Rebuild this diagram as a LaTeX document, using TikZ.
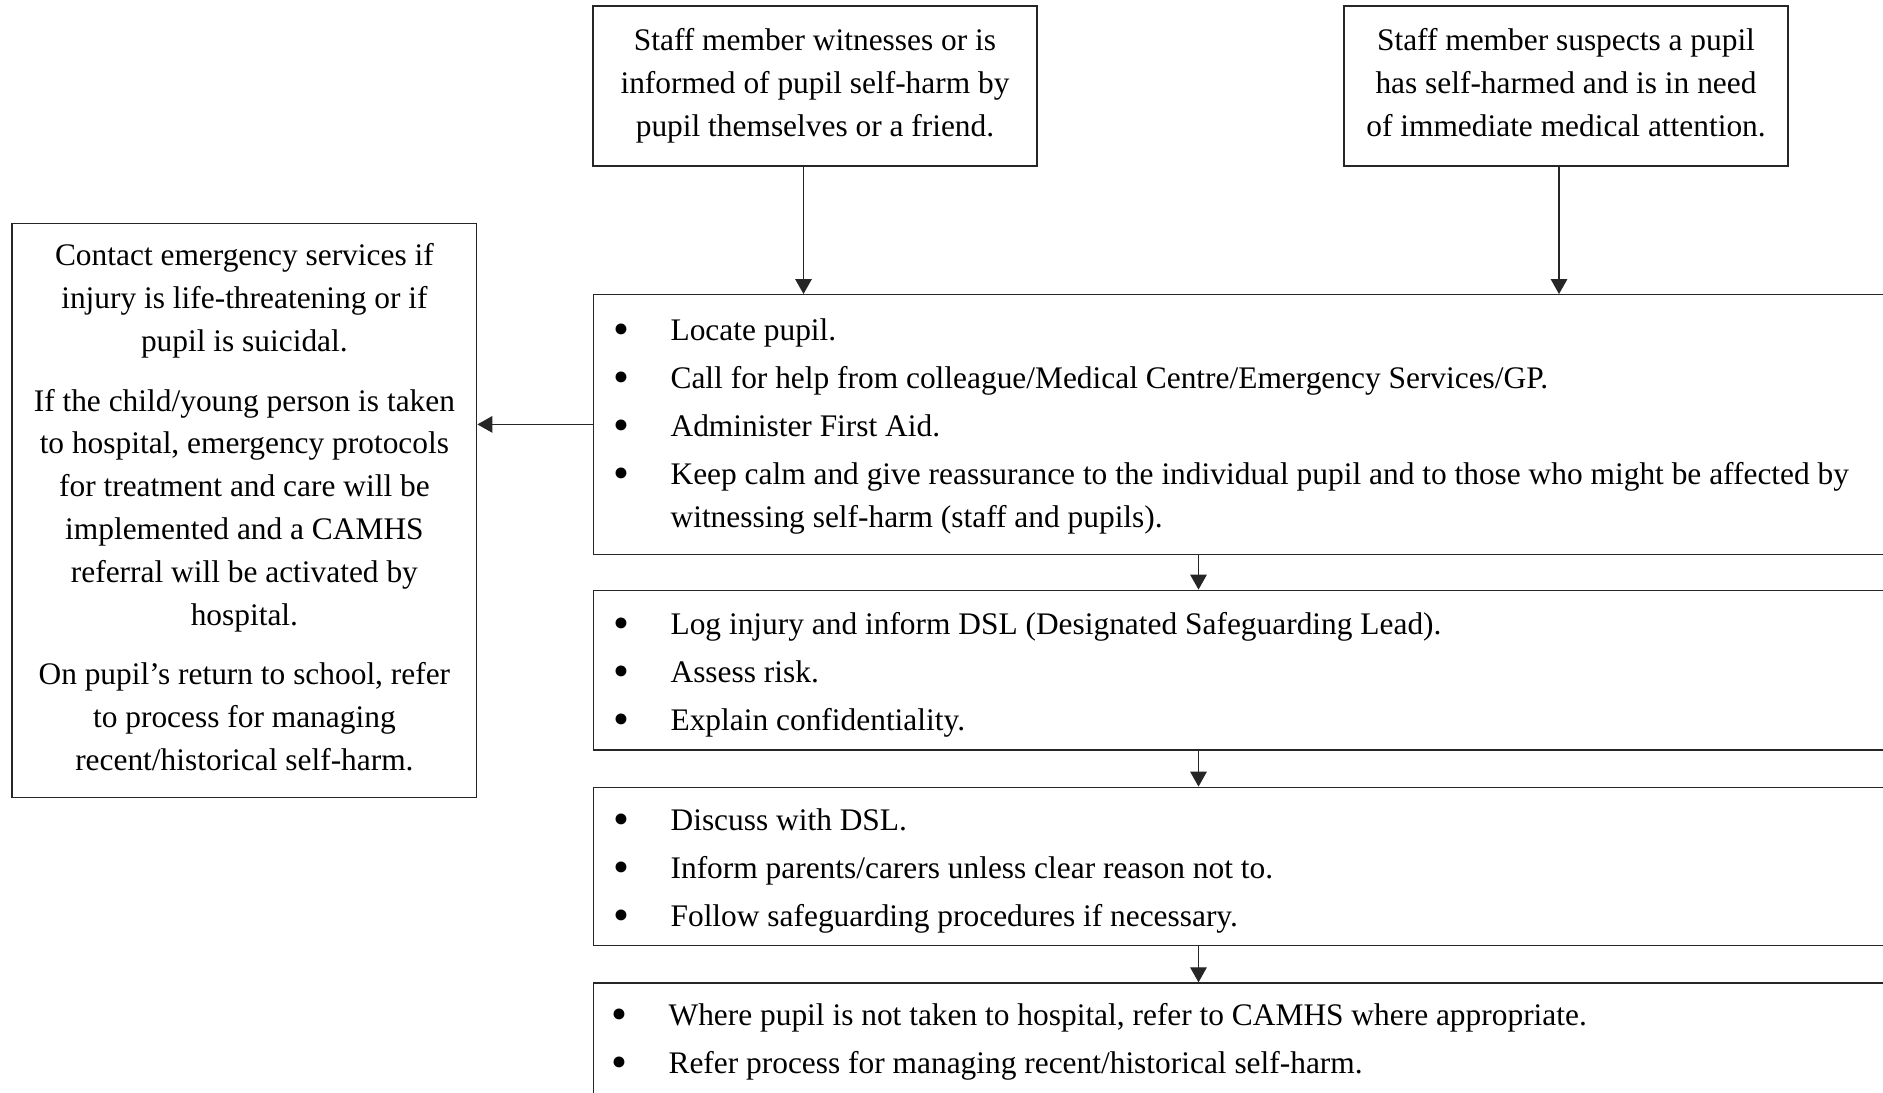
\documentclass[tikz,border=0pt]{standalone}
\usepackage{fontspec}
\setmainfont{Liberation Serif}
\usepackage{graphicx}
\usepackage{enumitem}
\usepackage{pgf,tikz}
\usetikzlibrary{arrows.meta}
\newcommand{\bigdot}{\raisebox{-2pt}{\scalebox{1.45}{\textbullet}}}
\setlist[itemize]{label=\bigdot, nosep, itemsep=2.4pt, leftmargin=38.5pt, labelsep=20.6pt, labelwidth=10pt, align=right}
\newcommand{\boxfont}{\fontsize{15.7pt}{21.6pt}\selectfont}
\tikzstyle{startbox} = [draw=black!85, line width=0.6pt, rectangle, inner sep=0pt, minimum width=222pt, minimum height=80pt, align=center, font=\boxfont]
\tikzstyle{sidebox} = [draw=black!85, line width=0.6pt, rectangle, inner sep=0pt, minimum width=232.4pt, minimum height=287pt, align=center, font=\fontsize{15.7pt}{21.4pt}\selectfont]
\tikzstyle{listbox} = [draw=black!85, line width=0.6pt, rectangle, inner sep=0pt, anchor=north west, minimum width=665pt, font=\boxfont]
\tikzstyle{flow} = [draw=black!85, line width=0.6pt, -{Triangle[width=8.3pt,length=7.5pt]}]

\begin{document}
\begin{tikzpicture}[x=0.5pt,y=-0.5pt]
		\useasboundingbox (0,0) rectangle (1883,1092);
		\clip (0,0) rectangle (1883,1092);
		\node[startbox](witness) at (815,86) {Staff member witnesses or is\\informed of pupil self-harm by\\pupil themselves or a friend.};
		\node[startbox](suspect) at (1566,86) {Staff member suspects a pupil\\has self-harmed and is in need\\of immediate medical attention.\vphantom{p}};
		\node[sidebox](emergency) at (244.4,510.4) {Contact emergency services if\\injury is life-threatening or if\\pupil is suicidal.\\[8.5pt]
			If the child/young person is taken\\to hospital, emergency protocols\\for treatment and care will be\\implemented and a CAMHS\\referral will be activated by\\hospital.\\[8.5pt]
			On pupil’s return to school, refer\\to process for managing\\recent/historical self-harm.\vphantom{p}};
		\node[listbox, minimum height=129.8pt](locate) at (593,294) {
			\begin{minipage}{665pt}
				\vspace{2.4pt}
				\begin{itemize}
					\item Locate pupil.
					\item Call for help from colleague/Medical Centre/Emergency Services/GP.
					\item Administer First Aid.
					\item Keep calm and give reassurance to the individual pupil and to those who might be affected by\\
					witnessing self-harm (staff and pupils).
				\end{itemize}
			\end{minipage}
			};
		\node[listbox, minimum height=79.9pt](inform) at (593,589.6) {
			\begin{minipage}{665pt}
				\vspace{4.8pt}
				\begin{itemize}
					\item Log injury and inform DSL (Designated Safeguarding Lead).
					\item Assess risk.
					\item Explain confidentiality.
				\end{itemize}
			\end{minipage}
			};
		\node[listbox, minimum height=79.25pt](discuss) at (593,786.6) {
			\begin{minipage}{665pt}
				\vspace{4.8pt}
				\begin{itemize}
					\item Discuss with DSL.
					\item Inform parents/carers unless clear reason not to.
					\item Follow safeguarding procedures if necessary.
				\end{itemize}
			\end{minipage}
			};
		\node[listbox, minimum height=58.9pt](refer) at (593,982.3) {
			\begin{minipage}{665pt}
				\begin{itemize}[leftmargin=37.5pt]
					\item Where pupil is not taken to hospital, refer to CAMHS where appropriate.
					\item Refer process for managing recent/historical self-harm.
				\end{itemize}
			\end{minipage}
			};
		\coordinate (lane1) at (803.5,0);
		\coordinate (lane2) at (1559,0);
		\coordinate (lane3) at (1198.5,0);
		\draw[flow] (witness.south -| lane1) -- (locate.north -| lane1);
		\draw[flow] (suspect.south -| lane2) -- (locate.north -| lane2);
		\draw[flow] (locate.west) -- (locate.west -| emergency.east);
		\draw[flow] (locate.south -| lane3) -- (inform.north -| lane3);
		\draw[flow] (inform.south -| lane3) -- (discuss.north -| lane3);
		\draw[flow] (discuss.south -| lane3) -- (refer.north -| lane3);
	\end{tikzpicture}
\end{document}
